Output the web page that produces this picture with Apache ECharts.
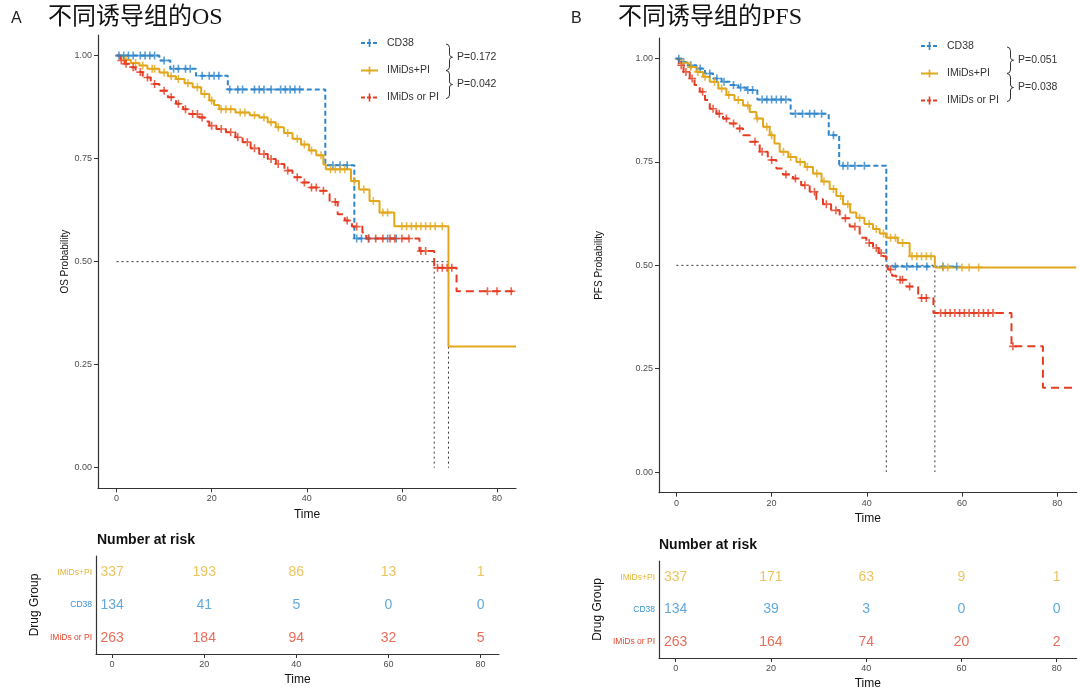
<!DOCTYPE html>
<html><head><meta charset="utf-8">
<script src="https://cdn.jsdelivr.net/npm/echarts@6/dist/echarts.min.js"></script>
<style>html,body{margin:0;padding:0;background:#fff}#c{width:1080px;height:696px}</style>
</head><body><div id="c"></div>
<script>
// ---------- DATA ----------
const groups = ['CD38', 'IMiDs+PI', 'IMiDs or PI'];
const xTicks = [0, 20, 40, 60, 80];
const yTicks = [0, 0.25, 0.5, 0.75, 1];
const riskTimes = [0, 20, 40, 60, 80];
const riskRows = ['IMiDs or PI', 'CD38', 'IMiDs+PI'];

// OS (panel A) Kaplan-Meier step points [time, survival]
const osCD38 = [[0,1],[9,0.988],[11.3,0.968],[16.7,0.951],[23.4,0.918],[43.9,0.734],[50,0.556],[58.8,0.556]];
const osIMP = [[0,1],[1.5,0.99],[3,0.982],[4.8,0.976],[6.5,0.968],[9,0.959],[10.8,0.95],[12.5,0.943],[14.3,0.933],[16,0.923],[17.8,0.907],[19.5,0.891],[20.5,0.88],[21.6,0.87],[25,0.862],[28,0.855],[30,0.85],[31.8,0.838],[33.5,0.826],[35.2,0.812],[37,0.798],[38.8,0.784],[40.5,0.77],[42,0.758],[43.5,0.736],[44,0.724],[49.3,0.696],[51,0.675],[53.2,0.647],[55.3,0.619],[58.4,0.586],[69.8,0.294],[84,0.294]];
const osIOP = [[0,1],[0.8,0.988],[1.7,0.98],[2.7,0.972],[4,0.96],[5.5,0.947],[7.2,0.931],[9,0.915],[10.8,0.899],[12.5,0.883],[14,0.87],[15.3,0.858],[17.4,0.85],[18.5,0.84],[19.5,0.83],[21,0.822],[23,0.814],[25,0.802],[26.5,0.79],[28.2,0.775],[30,0.761],[31.8,0.749],[33.5,0.737],[35.3,0.721],[37,0.705],[38.8,0.692],[40.5,0.68],[42.5,0.672],[44.2,0.664],[44.8,0.645],[46.5,0.615],[48,0.6],[49.5,0.585],[51.7,0.571],[52.5,0.556],[63.7,0.526],[66.8,0.485],[71.5,0.428],[84,0.428]];
const osCD38Cens = [0.5,1.5,2.5,3.5,5,6,7,8,10,12,13,14.5,15.5,18,19.5,20.5,21.5,23.8,25.5,26.5,29,30,31,32.5,34.5,35.5,36.5,37.5,38.5,45.5,47,48.5,50.5,51.5,53,57,58.8];
const osIMPCens = [2,4,5.5,7.5,8,10,11.5,13,15,17,18.5,20,22,23,24,26,27,29,31,32.5,34,36,38,39.5,41,43,45,46,47,48,50,52,54,56,57,60,61,62,63,64,65,66,67,68.5];
const osIOPCens = [1,2,3.5,5,6.5,8,10,11.5,13,14.5,16,17,18,20,22,24,25.5,27.5,29,31,32.5,34,36,38,39.5,41,42,43.5,46,48.5,50.5,53,54.5,56,57.5,58.5,60,61.5,64,65,67.5,68.5,69.5,70.5,78,80,83];
const osMedians = [66.8, 69.8];

// PFS (panel B)
const pfsCD38 = [[0,1],[1,0.992],[2.5,0.984],[4.2,0.976],[6,0.964],[7.7,0.952],[9.5,0.944],[11.2,0.936],[13,0.93],[14.7,0.924],[17,0.901],[24,0.867],[32,0.815],[34.2,0.741],[44.1,0.497],[58.9,0.497]];
const pfsIMP = [[0,1],[1,0.99],[2.5,0.98],[4.2,0.968],[5.6,0.956],[7,0.944],[8.8,0.928],[10.5,0.912],[12.2,0.9],[14,0.887],[15.4,0.871],[16.8,0.855],[18.2,0.835],[19.6,0.815],[20.6,0.795],[21.7,0.775],[23.5,0.762],[25.2,0.75],[27,0.738],[28.7,0.722],[30.5,0.703],[32.2,0.685],[33.6,0.668],[35,0.648],[36.5,0.628],[37.8,0.615],[39.5,0.6],[41.3,0.588],[42.7,0.577],[44.1,0.567],[46.5,0.554],[49,0.522],[54.3,0.495],[84,0.495]];
const pfsIOP = [[0,1],[0.5,0.984],[1.5,0.968],[2.8,0.952],[3.8,0.936],[4.9,0.92],[6,0.9],[7,0.879],[8.4,0.867],[9.8,0.855],[11.2,0.843],[12.6,0.831],[14,0.815],[15.4,0.799],[17.5,0.775],[19.2,0.755],[21,0.734],[22.4,0.72],[24.5,0.71],[26.2,0.694],[28,0.678],[29.4,0.66],[30.8,0.648],[32.5,0.633],[34.3,0.614],[36.4,0.594],[38.5,0.567],[39.9,0.554],[41.3,0.542],[42.5,0.53],[43.4,0.522],[44.1,0.505],[44.5,0.49],[45.3,0.475],[46.2,0.465],[48.3,0.449],[50.8,0.421],[54,0.385],[70.4,0.304],[77,0.204],[84,0.204]];
const pfsCD38Cens = [0.5,1.5,3,5,7,8.5,10,12,13.5,15,16,18,19,20,21,22,23,25,26.5,28,29,30.5,33,35,36,37.5,39.5,46,48.4,50.5,52.6,56,58.9];
const pfsIMPCens = [1.5,3,4.5,6,8,9.5,11,13,15,17,19,20,22.5,24,26,27.5,29.5,31,33,34.5,36,38.5,40.5,42,43.5,45,46,47.5,49.5,50.5,51.5,52.5,53.5,56,57,60,61.5,63.5];
const pfsIOPCens = [1,2,3.3,5.5,7.7,9,10.5,12,13.3,16.5,18,20,23,25,27,29,31.5,33.5,35.5,37.5,40.5,42,43,45,47,47.5,49,51.5,52.5,55.5,56.5,57.5,58.5,59.5,60.5,61.5,62.5,63.5,64.5,65.5,66.5,70.7];
const pfsMedians = [44.1, 54.3];

// Number at risk, per time in riskTimes
const osRiskIMP = [337, 193, 86, 13, 1];
const osRiskCD38 = [134, 41, 5, 0, 0];
const osRiskIOP = [263, 184, 94, 32, 5];
const pfsRiskIMP = [337, 171, 63, 9, 1];
const pfsRiskCD38 = [134, 39, 3, 0, 0];
const pfsRiskIOP = [263, 164, 74, 20, 2];

const pValuesOS = ['P=0.172', 'P=0.042'];
const pValuesPFS = ['P=0.051', 'P=0.038'];

// ---------- STYLE ----------
const C = { 'CD38': '#2F86CB', 'IMiDs+PI': '#E2A71D', 'IMiDs or PI': '#E53C22' };
const TC = { 'CD38': '#3B93D3', 'IMiDs+PI': '#E7B536', 'IMiDs or PI': '#E2482E' };
const DASH = { 'CD38': [5, 3], 'IMiDs+PI': 'solid', 'IMiDs or PI': [8, 5] };
const SANS = "'Liberation Sans', Arial, sans-serif";
const PLUS = 'path://M3.6,0h1.8v3.6h3.6v1.8h-3.6v3.6h-1.8v-3.6h-3.6v-1.8h3.6z';

function stepAt(curve, t) {
  let s = curve[0][1];
  for (const p of curve) { if (p[0] <= t) s = p[1]; else break; }
  return s;
}

const chart = echarts.init(document.getElementById('c'));

const series = [];
function addPanel(ax, curves, cens, medians) {
  groups.forEach((g, i) => {
    series.push({
      type: 'line', xAxisIndex: ax, yAxisIndex: ax, step: 'end', data: curves[i],
      showSymbol: false, symbol: 'none', silent: true, z: 3,
      lineStyle: { color: C[g], width: 2, type: DASH[g] }
    });
    series.push({
      type: 'scatter', xAxisIndex: ax, yAxisIndex: ax, symbol: PLUS, symbolSize: 8, silent: true, z: 4,
      itemStyle: { color: C[g] },
      data: cens[i].map(t => [t, stepAt(curves[i], t)])
    });
  });
  const mx = Math.max(...medians);
  const dot = { color: '#333', width: 1, type: [2, 3] };
  series.push({ type: 'line', xAxisIndex: ax, yAxisIndex: ax, data: [[0, 0.5], [mx, 0.5]], showSymbol: false, symbol: 'none', silent: true, z: 2, lineStyle: dot });
  medians.forEach(m => series.push({ type: 'line', xAxisIndex: ax, yAxisIndex: ax, data: [[m, 0.5], [m, 0]], showSymbol: false, symbol: 'none', silent: true, z: 2, lineStyle: dot }));
}
addPanel(0, [osCD38, osIMP, osIOP], [osCD38Cens, osIMPCens, osIOPCens], osMedians);
addPanel(1, [pfsCD38, pfsIMP, pfsIOP], [pfsCD38Cens, pfsIMPCens, pfsIOPCens], pfsMedians);

function addRisk(ax, rows) {
  Object.keys(rows).forEach(g => {
    series.push({
      type: 'scatter', xAxisIndex: ax, yAxisIndex: ax, symbol: 'circle', symbolSize: 1, silent: true,
      itemStyle: { color: 'rgba(0,0,0,0)' },
      label: { show: true, position: 'inside', color: TC[g], fontSize: 14, fontFamily: SANS, formatter: p => String(p.value[2]) },
      data: riskTimes.map((t, i) => [t, g, rows[g][i]])
    });
  });
}
addRisk(2, { 'IMiDs+PI': osRiskIMP, 'CD38': osRiskCD38, 'IMiDs or PI': osRiskIOP });
addRisk(3, { 'IMiDs+PI': pfsRiskIMP, 'CD38': pfsRiskCD38, 'IMiDs or PI': pfsRiskIOP });

const axLine = { show: true, onZero: false, lineStyle: { color: '#333', width: 1.2 } };
function xAx(grid, min, max, gap) {
  return {
    type: 'value', gridIndex: grid, min, max, splitLine: { show: false },
    axisLine: axLine,
    axisTick: { show: true, customValues: xTicks, length: 4, lineStyle: { color: '#333' } },
    axisLabel: { customValues: xTicks, color: '#4d4d4d', fontSize: 9, margin: 6, fontFamily: SANS },
    name: 'Time', nameLocation: 'middle', nameGap: gap,
    nameTextStyle: { color: '#111', fontSize: 12, fontFamily: SANS }
  };
}
function yAx(grid, name, gap) {
  return {
    type: 'value', gridIndex: grid, min: -0.05, max: 1.05, splitLine: { show: false },
    axisLine: axLine,
    axisTick: { show: true, customValues: yTicks, length: 4, lineStyle: { color: '#333' } },
    axisLabel: { customValues: yTicks, color: '#4d4d4d', fontSize: 9, margin: 6, fontFamily: SANS, formatter: v => v.toFixed(2) },
    name, nameLocation: 'middle', nameGap: gap, nameRotate: 90,
    nameTextStyle: { color: '#111', fontSize: 10, fontFamily: SANS }
  };
}
function yCat(grid, gap) {
  return {
    type: 'category', gridIndex: grid, data: riskRows, axisLine: axLine,
    axisTick: { show: false },
    axisLabel: { fontSize: 8.5, margin: 4, fontFamily: SANS, color: v => TC[v] },
    name: 'Drug Group', nameLocation: 'middle', nameGap: gap, nameRotate: 90,
    nameTextStyle: { color: '#111', fontSize: 12, fontFamily: SANS }
  };
}

// legend + brace graphics
const graphic = [];
function legendBlock(x0, ys, bx, pv) {
  groups.forEach((g, i) => {
    graphic.push({ type: 'line', shape: { x1: x0, y1: ys[i], x2: x0 + 17, y2: ys[i] }, style: { stroke: C[g], lineWidth: 2, lineDash: DASH[g] === 'solid' ? null : [4, 2] } });
    graphic.push({ type: 'line', shape: { x1: x0 + 8.5, y1: ys[i] - 4, x2: x0 + 8.5, y2: ys[i] + 4 }, style: { stroke: C[g], lineWidth: 1.6 } });
    graphic.push({ type: 'text', x: x0 + 26, y: ys[i], style: { text: g, fill: '#333', font: '10.5px ' + SANS, verticalAlign: 'middle' } });
  });
  const brace = (y0, y1) => {
    const m = (y0 + y1) / 2;
    return [[bx, y0], [bx + 2.5, y0 + 1], [bx + 3.5, y0 + 3.5], [bx + 3.5, m - 2.5], [bx + 4.5, m - 0.6], [bx + 6.5, m],
            [bx + 4.5, m + 0.6], [bx + 3.5, m + 2.5], [bx + 3.5, y1 - 3.5], [bx + 2.5, y1 - 1], [bx, y1]];
  };
  graphic.push({ type: 'polyline', shape: { points: brace(ys[0] + 1, ys[1]) }, style: { stroke: '#333', lineWidth: 1, fill: null } });
  graphic.push({ type: 'polyline', shape: { points: brace(ys[1], ys[2] + 1) }, style: { stroke: '#333', lineWidth: 1, fill: null } });
  graphic.push({ type: 'text', x: bx + 11, y: (ys[0] + ys[1]) / 2, style: { text: pv[0], fill: '#333', font: '10.5px ' + SANS, verticalAlign: 'middle' } });
  graphic.push({ type: 'text', x: bx + 11, y: (ys[1] + ys[2]) / 2, style: { text: pv[1], fill: '#333', font: '10.5px ' + SANS, verticalAlign: 'middle' } });
}
legendBlock(361, [43, 70.5, 97.5], 446, pValuesOS);
legendBlock(921, [46, 73.5, 100.5], 1007, pValuesPFS);

const TITLE_FONT = "'Liberation Serif','Noto Sans CJK SC',serif";
graphic.push({ type: 'text', x: 11, y: 19, style: { text: 'A', fill: '#222', font: '16px ' + SANS, verticalAlign: 'middle' } });
graphic.push({ type: 'text', x: 48, y: 18, style: { text: '不同诱导组的OS', fill: '#111', font: '24px ' + TITLE_FONT, verticalAlign: 'middle' } });
graphic.push({ type: 'text', x: 571, y: 19, style: { text: 'B', fill: '#222', font: '16px ' + SANS, verticalAlign: 'middle' } });
graphic.push({ type: 'text', x: 618, y: 18, style: { text: '不同诱导组的PFS', fill: '#111', font: '24px ' + TITLE_FONT, verticalAlign: 'middle' } });
graphic.push({ type: 'text', x: 97, y: 540, style: { text: 'Number at risk', fill: '#111', font: 'bold 14px ' + SANS, verticalAlign: 'middle' } });
graphic.push({ type: 'text', x: 659, y: 545, style: { text: 'Number at risk', fill: '#111', font: 'bold 14px ' + SANS, verticalAlign: 'middle' } });

chart.setOption({
  animation: false,
  backgroundColor: '#fff',
  grid: [
    { left: 98, right: 564, top: 35, bottom: 207.7 },
    { left: 659, right: 3.3, top: 38, bottom: 203.3 },
    { left: 96, right: 581, top: 556, bottom: 42 },
    { left: 659, right: 3.3, top: 561, bottom: 38 }
  ],
  xAxis: [xAx(0, -3.9, 84, 19), xAx(1, -3.66, 84.1, 18), xAx(2, -3.5, 84, 20), xAx(3, -3.5, 84.2, 20)],
  yAxis: [yAx(0, 'OS Probability', 28), yAx(1, 'PFS Probability', 55), yCat(2, 55), yCat(3, 55)],
  series,
  graphic
});
</script></body></html>
